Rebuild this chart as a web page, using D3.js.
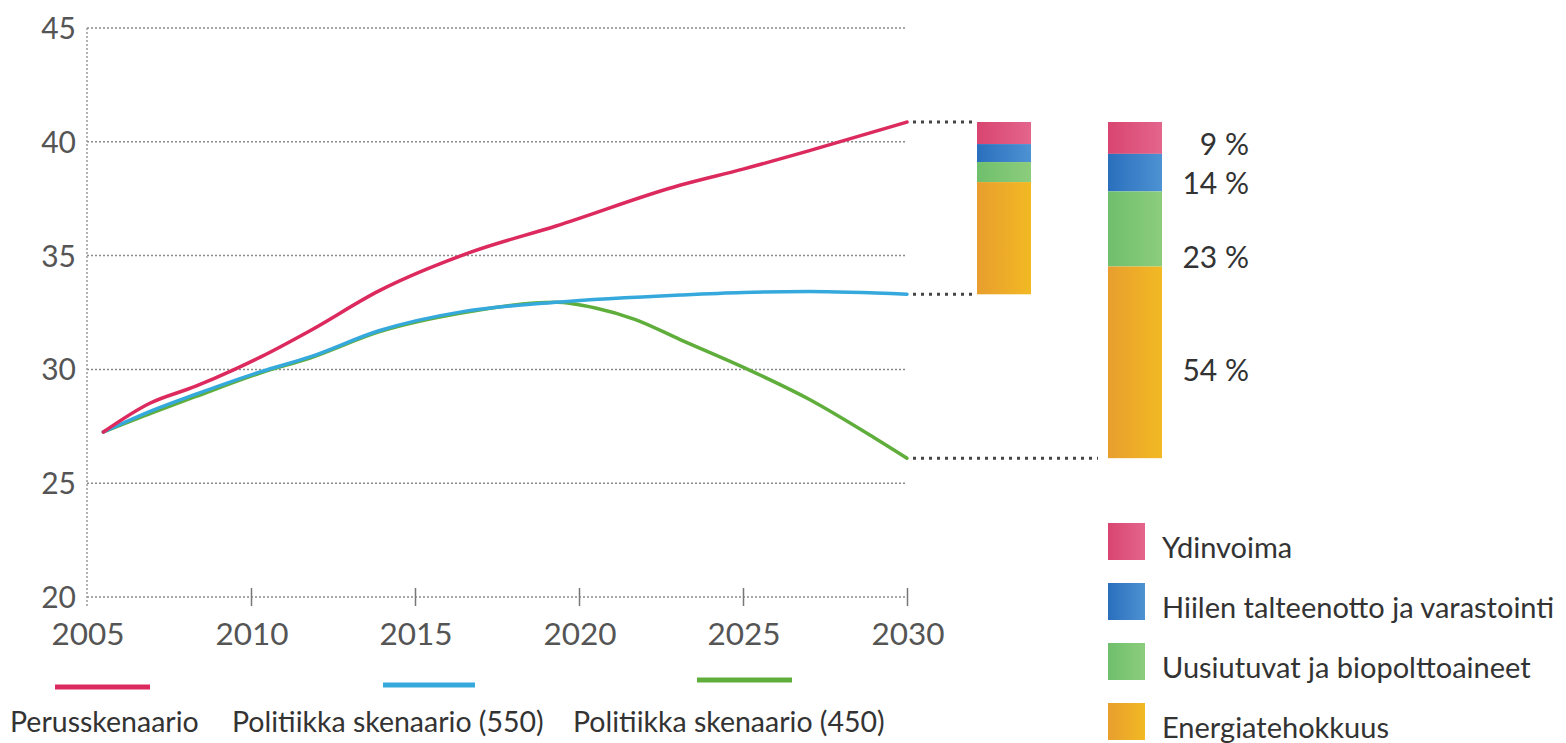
<!DOCTYPE html>
<html>
<head>
<meta charset="utf-8">
<script src="https://cdn.jsdelivr.net/npm/d3@7"></script>
<style>
  body { margin: 0; background: #fff; }
  text { font-family: Lato, "Open Sans", sans-serif; }
</style>
</head>
<body>
<div id="chart"></div>
<script>
// scenario lines (year, Gt CO2)
var perus = [[2005.5, 27.25], [2006.9, 28.5], [2008.3, 29.25], [2009.5, 30.0], [2010.3, 30.55],
             [2011.8, 31.7], [2013.9, 33.45], [2016.7, 35.15], [2019.3, 36.3], [2023.1, 38.1],
             [2025, 38.8], [2027, 39.6], [2030, 40.87]];
var pol550 = [[2005.5, 27.25], [2007, 28.2], [2008.3, 28.9], [2010.3, 29.9], [2011.8, 30.55],
              [2013.9, 31.7], [2016.5, 32.55], [2019.3, 32.95], [2023.1, 33.27], [2025, 33.38],
              [2027, 33.42], [2030, 33.3]];
var pol450 = [[2005.5, 27.25], [2007, 28.1], [2008.3, 28.8], [2010.3, 29.85], [2011.8, 30.5],
              [2013.9, 31.65], [2016.5, 32.5], [2019.3, 32.95], [2020.5, 32.7], [2021.7, 32.2],
              [2023.1, 31.3], [2025, 30.1], [2027, 28.7], [2029, 27.0], [2030, 26.1]];

var seriesNames = ["Perusskenaario", "Politiikka skenaario (550)", "Politiikka skenaario (450)"];
var seriesColors = ["#dc2a5e", "#36a9dc", "#5fae3c"];

// reduction wedges in 2030 (Gt), top to bottom
var wedgeNames = ["Ydinvoima", "Hiilen talteenotto ja varastointi", "Uusiutuvat ja biopolttoaineet", "Energiatehokkuus"];
var bar550 = [0.97, 0.79, 0.88, 4.93];
var bar450 = [1.4, 1.65, 3.3, 8.42];
var pctLabels = ["9 %", "14 %", "23 %", "54 %"];

var yTicks = [20, 25, 30, 35, 40, 45];
var xTicks = [2005, 2010, 2015, 2020, 2025, 2030];

var W = 1566, H = 743;
var svg = d3.select("#chart").append("svg")
    .attr("width", W).attr("height", H)
    .style("background", "#fff");

var x = d3.scaleLinear().domain([2005, 2030]).range([87, 907]);
var y = d3.scaleLinear().domain([20, 45]).range([597, 28]);

// gradients for wedges
var grads = [["#d84570", "#e4658c"], ["#2a6fbd", "#4d92d2"], ["#6fbf6c", "#8ccd7c"], ["#e89e2e", "#f2b923"]];
var defs = svg.append("defs");
grads.forEach(function(g, i) {
    var lg = defs.append("linearGradient").attr("id", "g" + i)
        .attr("x1", "0%").attr("x2", "100%").attr("y1", "0%").attr("y2", "0%");
    lg.append("stop").attr("offset", "0%").attr("stop-color", g[0]);
    lg.append("stop").attr("offset", "100%").attr("stop-color", g[1]);
});

// gridlines
svg.append("g").selectAll("line").data(yTicks).enter().append("line")
    .attr("x1", x(2005)).attr("x2", x(2030))
    .attr("y1", function(d) { return y(d); }).attr("y2", function(d) { return y(d); })
    .attr("stroke", "#8a8a8a").attr("stroke-width", 1.5).attr("stroke-dasharray", "2,2");

// vertical axis dotted
svg.append("line")
    .attr("x1", x(2005)).attr("x2", x(2005)).attr("y1", y(45)).attr("y2", y(20) + 10)
    .attr("stroke", "#9a9a9a").attr("stroke-width", 1.5).attr("stroke-dasharray", "2,2");

// y labels
svg.append("g").selectAll("text").data(yTicks).enter().append("text")
    .attr("x", 76).attr("y", function(d) { return y(d) + 11; })
    .attr("text-anchor", "end").attr("font-size", 30).attr("fill", "#555")
    .text(function(d) { return d; });

// x ticks + labels
var xAxis = d3.axisBottom(x).tickValues(xTicks.slice(1)).tickSize(18).tickFormat("");
var xg = svg.append("g").attr("transform", "translate(0," + (y(20) - 9) + ")").call(xAxis);
xg.select(".domain").remove();
xg.selectAll(".tick line").attr("stroke", "#777").attr("stroke-width", 1.5);

svg.append("g").selectAll("text").data(xTicks).enter().append("text")
    .attr("x", function(d) { return x(d) + 1; }).attr("y", 645)
    .attr("text-anchor", "middle").attr("font-size", 31.5).attr("fill", "#555")
    .text(function(d) { return d; });

// scenario lines
var line = d3.line().x(function(d) { return x(d[0]); }).y(function(d) { return y(d[1]); })
    .curve(d3.curveMonotoneX);
[pol450, pol550, perus].forEach(function(s, i) {
    svg.append("path").datum(s)
        .attr("d", line)
        .attr("fill", "none")
        .attr("stroke", seriesColors[2 - i])
        .attr("stroke-width", 3.5)
        .attr("stroke-linecap", "round");
});

// bars
var bar1X = 977, bar2X = 1108, barW = 54;
function drawBar(vals, bx) {
    var top = perus[perus.length - 1][1];
    var acc = top;
    vals.forEach(function(v, i) {
        svg.append("rect")
            .attr("x", bx).attr("width", barW)
            .attr("y", y(acc)).attr("height", y(acc - v) - y(acc))
            .attr("fill", "url(#g" + i + ")");
        acc -= v;
    });
}
drawBar(bar550, bar1X);
drawBar(bar450, bar2X);

// dotted connectors
var ends = [perus[perus.length - 1][1], pol550[pol550.length - 1][1], pol450[pol450.length - 1][1]];
var connTo = [bar1X - 2, bar1X - 2, bar2X - 10];
ends.forEach(function(v, i) {
    svg.append("line")
        .attr("x1", x(2030) + 6).attr("x2", connTo[i])
        .attr("y1", y(v)).attr("y2", y(v))
        .attr("stroke", "#444").attr("stroke-width", 3).attr("stroke-dasharray", "3,5");
});

// percent labels
var labelShift = [6, 10, 28, 8];
var acc = ends[0];
bar450.forEach(function(v, i) {
    var mid = y(acc - v / 2);
    svg.append("text")
        .attr("x", 1249).attr("y", mid + labelShift[i] + 11)
        .attr("text-anchor", "end").attr("font-size", 30).attr("fill", "#333")
        .text(pctLabels[i]);
    acc -= v;
});

// right legend
var leg = svg.append("g").attr("transform", "translate(1108,523)");
wedgeNames.forEach(function(n, i) {
    leg.append("rect").attr("x", 0).attr("y", i * 60).attr("width", 37).attr("height", 37)
        .attr("fill", "url(#g" + i + ")");
    leg.append("text").attr("x", 54).attr("y", i * 60 + 35)
        .attr("font-size", 29).attr("fill", "#333").text(n);
});

// bottom legend
var legX = [[55, 150, 10], [383, 475, 232], [697, 792, 573]];
var legY = [687, 685, 680];
seriesNames.forEach(function(n, i) {
    svg.append("line")
        .attr("x1", legX[i][0]).attr("x2", legX[i][1])
        .attr("y1", legY[i]).attr("y2", legY[i])
        .attr("stroke", seriesColors[i]).attr("stroke-width", 5);
    svg.append("text").attr("x", legX[i][2]).attr("y", 732)
        .attr("font-size", 28.5).attr("fill", "#333").text(n);
});
</script>
</body>
</html>
